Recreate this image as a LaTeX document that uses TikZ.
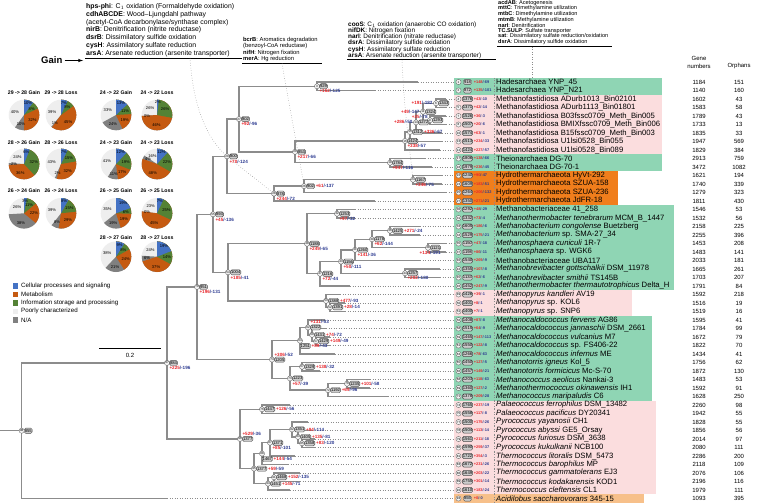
\documentclass[tikz,border=0pt]{standalone}
\usepackage{fontspec}
\setmainfont{Liberation Sans}
\usetikzlibrary{calc}
\definecolor{grn}{RGB}{143,213,180}
\definecolor{pnk}{RGB}{251,221,222}
\definecolor{org}{RGB}{240,126,28}
\definecolor{lorg}{RGB}{247,192,138}
\definecolor{gainc}{RGB}{232,38,43}
\definecolor{lossc}{RGB}{43,57,144}
\definecolor{brc}{RGB}{140,140,140}
\definecolor{pblue}{RGB}{68,114,196}
\definecolor{porg}{RGB}{197,90,17}
\definecolor{pgrn}{RGB}{84,130,53}
\definecolor{plg}{RGB}{238,238,238}
\definecolor{pdg}{RGB}{128,128,128}
\tikzset{
 br/.style={draw=brc, line width=1.4pt},
 dotl/.style={draw=brc, line width=0.5pt, dotted},
 idc/.style={circle, draw=gray!70!black, fill=gray!10, line width=0.3pt, inner sep=0pt, minimum size=5.2pt, font=\fontsize{3}{3}\selectfont},
 cntb/.style={rounded corners=1.5pt, draw=gray!60!black, fill=gray!40, line width=0.4pt, inner sep=0.5pt, minimum height=5.2pt, font=\fontsize{4.2}{4.2}\selectfont},
 gl/.style={inner sep=0pt, font=\fontsize{4.6}{4.6}\selectfont\bfseries},
 tgl/.style={inner sep=0pt, font=\fontsize{3.9}{3.9}\selectfont\bfseries},
 nm/.style={inner sep=0pt, font=\fontsize{7.7}{8}\selectfont},
 num/.style={inner sep=0pt, font=\fontsize{6}{7}\selectfont},
 hdA/.style={inner sep=0pt, anchor=west, font=\fontsize{6.9}{7}\selectfont},
 hdB/.style={inner sep=0pt, anchor=west, font=\fontsize{5.8}{6}\selectfont},
 hdC/.style={inner sep=0pt, anchor=west, font=\fontsize{6.4}{6.5}\selectfont},
 hdD/.style={inner sep=0pt, anchor=west, font=\fontsize{5.6}{6}\selectfont},
 pl/.style={inner sep=0pt, font=\fontsize{4.1}{4.1}\selectfont},
 ptl/.style={inner sep=0pt, font=\fontsize{5.2}{5.2}\selectfont\bfseries},
 lg/.style={inner sep=0pt, anchor=west, font=\fontsize{6.2}{6.2}\selectfont},
}
\newcommand\rowy[1]{\pgfmathsetmacro\yy{82+(#1-1)*8.5}}
\newcommand\band[4]{% first row, last row, right end, colour
 \pgfmathsetmacro\ya{82+(#1-1)*8.5-4.25}\pgfmathsetmacro\yb{82+(#2-1)*8.5+4.25}
 \fill[#4] (454,\ya) rectangle (#3,\yb);}
\newcommand\tip[8]{%
 \rowy{#1}
 \coordinate (L#1) at (454,\yy);
 \node[idc] (t#1i) at (458.5,\yy) {#2};
 \node[cntb] (t#1b) at (467.5,\yy) {#3};
 \node[tgl, anchor=west] (t#1g) at (473.6,\yy) {\textcolor{gainc}{+#4}\textcolor{lossc}{/-#5}};
 \draw[dotl] (494.5,\yy-4.25) -- (494.5,\yy+4.25);
 \node[nm, anchor=west] (t#1n) at (496,\yy) {#6};
 \node[num] (t#1c) at (699,\yy) {#7};
 \node[num] (t#1o) at (739,\yy) {#8};}
\newcommand\mkc[4]{\path let \p1=(#3), \p2=(#4) in coordinate (#1) at (#2pt,{0.5*(\y1+\y2)});}
\newcommand\eL[3]{\draw[br] let \p1=(#1), \p2=(L#2) in (\p1) |- (#3pt,\y2);
 \draw[dotl] let \p2=(L#2) in (#3pt,\y2) -- (L#2);}
\newcommand\eI[2]{\draw[br] (#1) |- (#2);}
\newcommand\glt[2]{\textcolor{gainc}{+#1}\textcolor{lossc}{/-#2}}
\newcommand\lab[6]{%
 \node[idc] (#1i) at (#1) {#2};
 \ifx d#6
  \node[cntb, anchor=north west] (#1b) at ([yshift=0.3pt]#1i.south) {#3};
  \node[gl, anchor=west] (#1g) at ([xshift=0.8pt]#1b.east) {\glt{#4}{#5}};
 \else
  \node[cntb, anchor=west] (#1b) at ([xshift=-0.4pt]#1i.east) {#3};
 \fi
 \ifx b#6 \node[gl, anchor=north west] (#1g) at ([yshift=-0.4pt]#1b.south west) {\glt{#4}{#5}};\fi
 \ifx r#6 \node[gl, anchor=west] (#1g) at ([xshift=0.8pt]#1b.east) {\glt{#4}{#5}};\fi
 \ifx a#6 \node[gl, anchor=south west] (#1g) at ([yshift=0.4pt]#1b.north west) {\glt{#4}{#5}};\fi
 \ifx l#6 \node[gl, anchor=east] (#1g) at ([xshift=-0.6pt]#1i.west) {\glt{#4}{#5}};\fi
 \ifx u#6 \node[gl, anchor=south east] (#1g) at ([xshift=-0.3pt]#1i.north west) {\glt{#4}{#5}};\fi
 \ifx w#6 \node[gl, anchor=north east] (#1g) at ([yshift=-0.4pt]#1b.south east) {\glt{#4}{#5}};\fi}
% pie: cx, cy, blue, green, orange, darkgrey, lightgrey (percent)
\newcommand\piec[7]{%
 \pgfmathsetmacro\ptot{#3+#4+#5+#6+#7}
 \pgfmathsetmacro\pgB{90-360*((#3)/\ptot)}
 \pgfmathsetmacro\pgC{90-360*((#3+#4)/\ptot)}
 \pgfmathsetmacro\pgD{90-360*((#3+#4+#5)/\ptot)}
 \pgfmathsetmacro\pgE{90-360*((#3+#4+#5+#6)/\ptot)}
 \pgfmathsetmacro\mA{(90+\pgB)/2}
 \pgfmathsetmacro\mB{(\pgB+\pgC)/2}
 \pgfmathsetmacro\mC{(\pgC+\pgD)/2}
 \pgfmathsetmacro\mD{(\pgD+\pgE)/2}
 \pgfmathsetmacro\mE{(\pgE-270)/2}
 \coordinate (pc) at (#1,#2);
 \fill[plg] (pc) circle[radius=15.3pt];
 \fill[pdg] (pc) -- ++(90:15.3pt) arc[start angle=90,end angle=\pgE,radius=15.3pt] -- cycle;
 \fill[porg] (pc) -- ++(90:15.3pt) arc[start angle=90,end angle=\pgD,radius=15.3pt] -- cycle;
 \fill[pgrn] (pc) -- ++(90:15.3pt) arc[start angle=90,end angle=\pgC,radius=15.3pt] -- cycle;
 \fill[pblue] (pc) -- ++(90:15.3pt) arc[start angle=90,end angle=\pgB,radius=15.3pt] -- cycle;
 \path (pc) ++(\mA:12.5pt) node[pl] {#3\%};
 \path (pc) ++(\mB:10pt) node[pl] {#4\%};
 \path (pc) ++(\mC:10pt) node[pl] {#5\%};
 \path (pc) ++(\mD:10pt) node[pl] {#6\%};
 \path (pc) ++(\mE:9.5pt) node[pl] {#7\%};}
\begin{document}
\begin{tikzpicture}[x=1pt,y=-1pt]
\useasboundingbox[fill=white] (0,0) rectangle (760,503);
% ---------- header blocks
\node[hdA] (h11) at (86,7) {\textbf{hps-phi}: C$_1$ oxidation (Formaldehyde oxidation)};
\node[hdA] (h12) at (86,14.7) {\textbf{cdhABCDE}: Wood--Ljungdahl pathway};
\node[hdA] (h13) at (86,22.4) {(acetyl-CoA decarbonylase/synthase complex)};
\node[hdA] (h14) at (86,30.2) {\textbf{nirB}: Denitrification (nitrite reductase)};
\node[hdA] (h15) at (86,38) {\textbf{dsrB}: Dissimilatory sulfide oxidation};
\node[hdA] (h16) at (86,45.7) {\textbf{cysH}: Assimilatory sulfate reduction};
\node[hdA] (h17) at (86,53.4) {\textbf{arsA}: Arsenate reduction (arsenite transporter)};
\draw[line width=0.8pt] (85,58) coordinate (u1a) -- (242,58) coordinate (u1b);
\node[inner sep=0pt, font=\fontsize{9.5}{10}\selectfont\bfseries, anchor=west] (gain) at (41,60.5) {Gain};
\draw[-latex, line width=0.6pt] ([xshift=2pt]gain.east) -- (83,60.5) coordinate (garr);
\node[hdB] (h21) at (243,40) {\textbf{bcrB}: Aromatics degradation};
\node[hdB] (h22) at (243,46.3) {(benzoyl-CoA reductase)};
\node[hdB] (h23) at (243,52.6) {\textbf{nifH}: Nitrogen fixation};
\node[hdB] (h24) at (243,59) {\textbf{merA}: Hg reduction};
\draw[line width=0.8pt] (242,63.5) coordinate (u2a) -- (322,63.5) coordinate (u2b);
\node[hdC] (h31) at (348,25) {\textbf{cooS}: C$_1$ oxidation (anaerobic CO oxidation)};
\node[hdC] (h32) at (348,31.1) {\textbf{nifDK}: Nitrogen fixation};
\node[hdC] (h33) at (348,37.2) {\textbf{narI}: Denitrification (nitrate reductase)};
\node[hdC] (h34) at (348,43.3) {\textbf{dsrA}: Dissimilatory sulfide oxidation};
\node[hdC] (h35) at (348,49.4) {\textbf{cysH}: Assimilatory sulfate reduction};
\node[hdC] (h36) at (348,55.5) {\textbf{arsA}: Arsenate reduction (arsenite transporter)};
\draw[line width=0.8pt] (347,59.8) coordinate (u3a) -- (496,59.8) coordinate (u3b);
\node[hdD] (h41) at (498,2.9) {\textbf{acdAB}: Acetogenesis};
\node[hdD] (h42) at (498,8.5) {\textbf{mttC}: Trimethylamine utilization};
\node[hdD] (h43) at (498,14.1) {\textbf{mtbC}: Dimethylamine utilization};
\node[hdD] (h44) at (498,19.7) {\textbf{mtmB}: Methylamine utilization};
\node[hdD] (h45) at (498,25.3) {\textbf{narI}: Denitrification};
\node[hdD] (h46) at (498,30.9) {\textbf{TC.SULP}: Sulfate transporter};
\node[hdD] (h47) at (498,36.5) {\textbf{sat}: Dissimilatory sulfate reduction/oxidation};
\node[hdD] (h48) at (498,42.1) {\textbf{dsrA}: Dissimilatory sulfide oxidation};
\draw[line width=0.8pt] (497,46.8) coordinate (u4a) -- (612,46.8) coordinate (u4b);
% gene header
\node[num] (gh1) at (699,58.5) {Gene};
\node[num] (gh2) at (699,66) {numbers};
\node[num] (gh3) at (739,66) {Orphans};
% ---------- pies
\node[ptl] (p1t) at (24,92.7) {29 -> 28 Gain};
\node[ptl] (p2t) at (61,92.7) {29 -> 28 Loss};
\node[ptl] (p3t) at (116,92.7) {24 -> 22 Gain};
\node[ptl] (p4t) at (157,92.7) {24 -> 22 Loss};
\piec{24}{115}{10}{8}{32}{10}{40}
\piec{61}{115}{7}{8}{45}{1}{39}
\piec{116}{115}{13}{11}{19}{24}{33}
\piec{157}{115}{2}{26}{46}{0}{26}
\node[ptl] (p5t) at (24,142.3) {28 -> 26 Gain};
\node[ptl] (p6t) at (61,142.3) {28 -> 26 Loss};
\node[ptl] (p7t) at (116,142.3) {24 -> 23 Gain};
\node[ptl] (p8t) at (157,142.3) {24 -> 23 Loss};
\piec{24}{164}{6}{32}{36}{2}{24}
\piec{61}{164}{7}{15}{32}{2}{43}
\piec{116}{164}{12}{19}{17}{11}{41}
\piec{157}{164}{12}{22}{48}{4}{16}
\node[ptl] (p9t) at (24,190.7) {26 -> 24 Gain};
\node[ptl] (p10t) at (61,190.7) {26 -> 24 Loss};
\node[ptl] (p11t) at (116,190.7) {26 -> 25 Gain};
\node[ptl] (p12t) at (157,190.7) {26 -> 25 Loss};
\piec{24}{213.3}{3}{11}{22}{38}{26}
\piec{61}{213.3}{8}{15}{29}{8}{39}
\piec{116}{213.3}{19}{6}{19}{19}{35}
\piec{157}{213.3}{7}{25}{45}{0}{23}
\node[ptl] (p13t) at (116,237.7) {28 -> 27 Gain};
\node[ptl] (p14t) at (157,237.7) {28 -> 27 Loss};
\piec{116}{256.7}{9}{8}{24}{21}{38}
\piec{157}{256.7}{19}{14}{37}{6}{24}
% legend
\fill[pblue] (12.7,283) rectangle (18.3,288.6); \node[lg] (lg1) at (21,285.7) {Cellular processes and signaling};
\fill[porg] (12.7,291.5) rectangle (18.3,297.1); \node[lg] (lg2) at (21,294.3) {Metabolism};
\fill[pgrn] (12.7,300.2) rectangle (18.3,305.8); \node[lg] (lg3) at (21,303) {Information storage and processing};
\fill[plg] (12.7,308.5) rectangle (18.3,314.1); \node[lg] (lg4) at (21,311.3) {Poorly characterized};
\fill[pdg] (12.7,317.2) rectangle (18.3,322.8); \node[lg] (lg5) at (21,320) {N/A};
% scale bar
\draw[line width=0.7pt] (99,348) coordinate (sb1) -- (161,348) coordinate (sb2);
\node[num] (sbl) at (130,355) {0.2};
% ---------- coloured bands
\band{1}{2}{662}{grn}
\band{3}{9}{662}{pnk}
\band{10}{11}{662}{grn}
\band{12}{15}{618}{org}
\band{16}{25}{674}{grn}
\band{26}{28}{632}{pnk}
\band{29}{38}{652}{grn}
\band{39}{49}{656}{pnk}
\band{50}{50}{644}{lorg}
% ---------- tips
\tip{1}{1}{918}{148}{69}{Hadesarchaea YNP\_45}{1184}{151}
\tip{2}{2}{872}{135}{101}{Hadesarchaea YNP\_N21}{1140}{160}
\tip{3}{4}{1376}{43}{10}{Methanofastidiosa ADurb1013\_Bin02101}{1602}{43}
\tip{4}{5}{1371}{42}{14}{Methanofastidiosa ADurb1113\_Bin01801}{1583}{58}
\tip{5}{7}{1526}{36}{3}{Methanofastidiosa B03fssc0709\_Meth\_Bin005}{1789}{43}
\tip{6}{8}{1507}{20}{6}{Methanofastidiosa BMIXfssc0709\_Meth\_Bin006}{1733}{13}
\tip{7}{10}{1574}{63}{1}{Methanofastidiosa B15fssc0709\_Meth\_Bin003}{1835}{33}
\tip{8}{13}{1513}{234}{33}{Methanofastidiosa U1lsi0528\_Bin055}{1947}{569}
\tip{9}{12}{1424}{227}{57}{Methanofastidiosa U1lsi0528\_Bin089}{1829}{384}
\tip{10}{17}{1806}{138}{66}{Theionarchaea DG-70}{2913}{759}
\tip{11}{18}{1979}{236}{45}{Theionarchaea DG-70-1}{3472}{1082}
\tip{12}{22}{1240}{90}{47}{Hydrothermarchaeota HyVt-292}{1621}{194}
\tip{13}{23}{1609}{183}{51}{Hydrothermarchaeota SZUA-158}{1740}{339}
\tip{14}{25}{1264}{206}{132}{Hydrothermarchaeota SZUA-236}{1279}{323}
\tip{15}{27}{1350}{271}{21}{Hydrothermarchaeota JdFR-18}{1811}{430}
\tip{16}{30}{1292}{48}{29}{Methanobacteriaceae 41\_258}{1546}{53}
\tip{17}{31}{1332}{73}{4}{\textit{Methanothermobacter tenebrarum} MCM\_B\_1447}{1532}{56}
\tip{18}{33}{1605}{186}{6}{\textit{Methanobacterium congolense} Buetzberg}{2158}{225}
\tip{19}{34}{1529}{175}{21}{\textit{Methanobacterium} sp. SMA-27\_34}{2255}{396}
\tip{20}{35}{1150}{47}{18}{\textit{Methanosphaera cuniculi} 1R-7}{1453}{208}
\tip{21}{37}{1198}{86}{11}{\textit{Methanosphaera} sp. WGK6}{1483}{141}
\tip{22}{40}{1540}{269}{9}{Methanobacteriaceae UBA117}{2033}{181}
\tip{23}{42}{1355}{107}{8}{\textit{Methanobrevibacter gottschalkii} DSM\_11978}{1665}{261}
\tip{24}{45}{1133}{62}{6}{\textit{Methanobrevibacter smithii} TS145B}{1703}{207}
\tip{25}{46}{1452}{247}{9}{\textit{Methanothermobacter thermautotrophicus} Delta\_H}{1791}{84}
\tip{26}{49}{1426}{39}{1}{\textit{Methanopyrus kandleri} AV19}{1592}{218}
\tip{27}{50}{1401}{8}{1}{\textit{Methanopyrus} sp. KOL6}{1516}{19}
\tip{28}{51}{1400}{7}{1}{\textit{Methanopyrus} sp. SNP6}{1519}{16}
\tip{29}{56}{1408}{87}{8}{\textit{Methanocaldococcus fervens} AG86}{1595}{41}
\tip{30}{58}{1515}{64}{9}{\textit{Methanocaldococcus jannaschii} DSM\_2661}{1784}{99}
\tip{31}{59}{1465}{147}{113}{\textit{Methanocaldococcus vulcanius} M7}{1672}{79}
\tip{32}{61}{1550}{122}{8}{\textit{Methanocaldococcus} sp. FS406-22}{1822}{70}
\tip{33}{63}{1266}{78}{63}{\textit{Methanocaldococcus infernus} ME}{1434}{41}
\tip{34}{65}{1450}{127}{5}{\textit{Methanotorris igneus} Kol\_5}{1756}{62}
\tip{35}{66}{1457}{149}{21}{\textit{Methanotorris formicicus} Mc-S-70}{1872}{130}
\tip{36}{68}{1203}{118}{63}{\textit{Methanococcus aeolicus} Nankai-3}{1483}{53}
\tip{37}{69}{1360}{127}{2}{\textit{Methanothermococcus okinawensis} IH1}{1592}{91}
\tip{38}{71}{1378}{209}{28}{\textit{Methanococcus maripaludis} C6}{1628}{250}
\tip{39}{74}{1765}{237}{19}{\textit{Palaeococcus ferrophilus} DSM\_13482}{2260}{98}
\tip{40}{75}{1558}{117}{8}{\textit{Palaeococcus pacificus} DY20341}{1942}{55}
\tip{41}{77}{1500}{175}{26}{\textit{Pyrococcus yayanosii} CH1}{1828}{55}
\tip{42}{78}{1504}{113}{14}{\textit{Pyrococcus abyssi} GE5\_Orsay}{1856}{56}
\tip{43}{79}{1561}{211}{18}{\textit{Pyrococcus furiosus} DSM\_3638}{2014}{97}
\tip{44}{80}{1590}{259}{37}{\textit{Pyrococcus kukulkanii} NCB100}{2080}{111}
\tip{45}{81}{1722}{354}{3}{\textit{Thermococcus litoralis} DSM\_5473}{2286}{200}
\tip{46}{83}{1672}{231}{26}{\textit{Thermococcus barophilus} MP}{2118}{109}
\tip{47}{86}{1649}{203}{22}{\textit{Thermococcus gammatolerans} EJ3}{2076}{106}
\tip{48}{89}{1755}{301}{14}{\textit{Thermococcus kodakarensis} KOD1}{2196}{116}
\tip{49}{92}{1610}{183}{24}{\textit{Thermococcus cleftensis} CL1}{1979}{111}
\tip{50}{93}{855}{0}{0}{\textit{Acidilobus saccharovorans} 345-15}{1093}{395}
% ---------- internal coordinates
\mkc{N3}{317}{L1}{L2}
\mkc{N6}{436}{L3}{L4}
\mkc{N9}{430}{L5}{L6}
\mkc{N11}{423}{N6}{N9}
\mkc{N14}{416}{N11}{L7}
\mkc{N15}{410}{N14}{L8}
\mkc{N16}{405}{N15}{L9}
\mkc{N19}{390}{L10}{L11}
\mkc{N20}{295}{N16}{N19}
\mkc{N27}{239}{N3}{N20}
\mkc{N24}{413}{L12}{L13}
\mkc{N26}{304}{N24}{L14}
\mkc{N28}{274}{N26}{L15}
\mkc{N29}{227}{N27}{N28}
\mkc{N32}{337}{L16}{L17}
\mkc{N36}{390}{L18}{L19}
\mkc{N38}{428}{L20}{L21}
\mkc{N39}{372}{N36}{N38}
\mkc{N41}{355}{N39}{L22}
\mkc{N44}{405}{L23}{L24}
\mkc{N43}{341}{N41}{N44}
\mkc{N47}{320}{N43}{L25}
\mkc{N48}{307}{N32}{N47}
\mkc{N52}{330}{L27}{L28}
\mkc{N53}{326}{L26}{N52}
\mkc{N54}{228}{N48}{N53}
\mkc{N55}{213}{N29}{N54}
\mkc{N57}{316}{L31}{L32}
\mkc{N60}{312}{L30}{N57}
\mkc{N62}{308}{L29}{N60}
\mkc{N64}{300}{N62}{L33}
\mkc{N67}{302}{L34}{L35}
\mkc{N70}{347}{L36}{L37}
\mkc{N72}{328}{N70}{L38}
\mkc{N73}{290}{N67}{N72}
\mkc{N74}{272}{N64}{N73}
\mkc{NY}{197}{N55}{N74}
\mkc{N76}{262}{L39}{L40}
\mkc{N85}{302}{L43}{L44}
\mkc{N84}{298}{L42}{N85}
\mkc{N82}{292}{L41}{N84}
\mkc{N87}{270}{N82}{L45}
\mkc{N88}{262}{N87}{L46}
\mkc{N91}{274}{L47}{L48}
\mkc{N94}{268}{N91}{L49}
\mkc{N95}{254}{N88}{N94}
\mkc{N96}{240}{N76}{N95}
\mkc{NX}{167}{NY}{N96}
\mkc{NR}{21.7}{NX}{L50}
\path let \p1=(NR) in coordinate (R0) at (0pt,\y1);
% header connectors (dotted)
\draw[dotl] (190,58) .. controls (193,105) and (206,138) .. (N29) -- (N28);
\draw[dotl] (282,63.5) .. controls (290,110) and (298,150) .. (N26);
\draw[dotl] (402,59.8) .. controls (404,110) and (410,150) .. (N24);
\draw[dotl] (532,46.8) -- (532,77.75);
% ---------- edges
\eL{N3}{1}{418} \eL{N3}{2}{375}
\eL{N6}{3}{446} \eL{N6}{4}{446}
\eL{N9}{5}{446} \eL{N9}{6}{446}
\eI{N11}{N6} \eI{N11}{N9}
\eI{N14}{N11} \eL{N14}{7}{442}
\eI{N15}{N14} \eL{N15}{8}{442}
\eI{N16}{N15} \eL{N16}{9}{440}
\eL{N19}{10}{425} \eL{N19}{11}{432}
\eI{N20}{N16} \eI{N20}{N19}
\eI{N27}{N3} \eI{N27}{N20}
\eL{N24}{12}{442} \eL{N24}{13}{442}
\eI{N26}{N24} \eL{N26}{14}{446}
\eI{N28}{N26} \eL{N28}{15}{375}
\eI{N29}{N27} \eI{N29}{N28}
\eL{N32}{16}{355} \eL{N32}{17}{355}
\eL{N36}{18}{420} \eL{N36}{19}{420}
\eL{N38}{20}{446} \eL{N38}{21}{446}
\eI{N39}{N36} \eI{N39}{N38}
\eI{N41}{N39} \eL{N41}{22}{420}
\eL{N44}{23}{440} \eL{N44}{24}{440}
\eI{N43}{N41} \eI{N43}{N44}
\eI{N47}{N43} \eL{N47}{25}{350}
\eI{N48}{N32} \eI{N48}{N47}
\eL{N52}{27}{345} \eL{N52}{28}{345}
\eL{N53}{26}{340} \eI{N53}{N52}
\eI{N54}{N48} \eI{N54}{N53}
\eI{N55}{N29} \eI{N55}{N54}
\eL{N57}{31}{330} \eL{N57}{32}{330}
\eL{N60}{30}{326} \eI{N60}{N57}
\eL{N62}{29}{325} \eI{N62}{N60}
\eI{N64}{N62} \eL{N64}{33}{335}
\eL{N67}{34}{320} \eL{N67}{35}{320}
\eL{N70}{36}{370} \eL{N70}{37}{370}
\eI{N72}{N70} \eL{N72}{38}{388}
\eI{N73}{N67} \eI{N73}{N72}
\eI{N74}{N64} \eI{N74}{N73}
\eI{NY}{N55} \eI{NY}{N74}
\eL{N76}{39}{290} \eL{N76}{40}{290}
\eL{N85}{43}{315} \eL{N85}{44}{315}
\eL{N84}{42}{312} \eI{N84}{N85}
\eL{N82}{41}{308} \eI{N82}{N84}
\eI{N87}{N82} \eL{N87}{45}{295}
\eI{N88}{N87} \eL{N88}{46}{288}
\eL{N91}{47}{300} \eL{N91}{48}{300}
\eI{N94}{N91} \eL{N94}{49}{290}
\eI{N95}{N88} \eI{N95}{N94}
\eI{N96}{N76} \eI{N96}{N95}
\eI{NX}{NY} \eI{NX}{N96}
\eI{NR}{NX} \eL{NR}{50}{167}
\draw[br] (R0) -- (NR);
% ---------- internal labels
\lab{N3}{3}{929}{162}{125}{b}
\lab{N6}{6}{1343}{191}{182}{l}
\lab{N9}{9}{1293}{25}{78}{u}
\lab{N11}{11}{1324}{49}{147}{l}
\lab{N14}{14}{1272}{286}{50}{l}
\lab{N15}{15}{1312}{336}{67}{r}
\lab{N16}{16}{1424}{338}{57}{b}
\lab{N19}{19}{1784}{947}{116}{b}
\lab{N20}{20}{853}{217}{66}{b}
\lab{N27}{27}{802}{92}{96}{b}
\lab{N24}{24}{1167}{346}{75}{b}
\lab{N26}{26}{902}{61}{137}{r}
\lab{N28}{28}{878}{244}{72}{b}
\lab{N29}{29}{800}{70}{124}{b}
\lab{N32}{32}{1253}{97}{32}{b}
\lab{N36}{36}{1425}{271}{24}{r}
\lab{N38}{38}{1121}{134}{191}{w}
\lab{N39}{39}{1178}{62}{144}{b}
\lab{N41}{41}{1260}{141}{36}{b}
\lab{N43}{43}{1156}{50}{111}{b}
\lab{N44}{44}{1257}{202}{180}{b}
\lab{N47}{47}{1216}{72}{44}{b}
\lab{N48}{48}{1188}{249}{65}{b}
\lab{N52}{52}{1391}{28}{14}{r}
\lab{N53}{53}{1388}{477}{93}{r}
\lab{N54}{54}{1004}{185}{41}{b}
\lab{N55}{55}{893}{45}{136}{b}
\lab{N57}{57}{1429}{149}{49}{r}
\lab{N60}{60}{1431}{74}{72}{r}
\lab{N62}{62}{1322}{131}{53}{a}
\lab{N64}{64}{1251}{89}{43}{d}
\lab{N67}{67}{1329}{138}{32}{r}
\lab{N70}{70}{1235}{101}{58}{r}
\lab{N72}{72}{1192}{69}{96}{r}
\lab{N73}{73}{1223}{57}{39}{b}
\lab{N74}{74}{1205}{306}{52}{a}
\lab{NY}{79}{951}{196}{131}{b}
\lab{N76}{76}{1447}{126}{56}{r}
\lab{N82}{82}{1351}{94}{114}{r}
\lab{N84}{84}{1405}{135}{81}{r}
\lab{N85}{85}{1358}{83}{120}{r}
\lab{N87}{87}{1371}{85}{101}{b}
\lab{N88}{88}{1467}{144}{54}{d}
\lab{N91}{91}{1468}{152}{135}{r}
\lab{N94}{94}{1451}{145}{71}{r}
\lab{N95}{95}{1377}{59}{59}{r}
\lab{N96}{96}{1377}{529}{36}{a}
\lab{NX}{97}{884}{225}{196}{b}
\node[idc] (NRi) at (NR) {98};
\node[cntb, anchor=west] (NRb) at ([xshift=-0.4pt]NRi.east) {855};
\end{tikzpicture}
\end{document}
